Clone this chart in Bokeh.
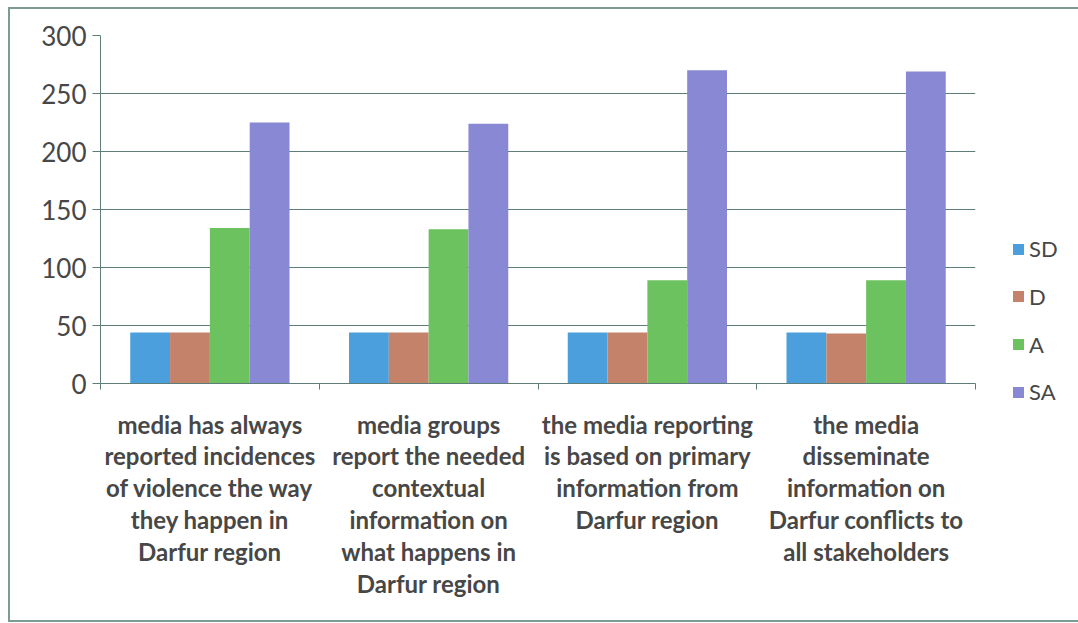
from bokeh.plotting import figure
from bokeh.layouts import row
from bokeh.models import Range1d, FixedTicker, Div
from bokeh.embed import file_html
from bokeh.resources import INLINE

categories = [
    "media has always\nreported incidences\nof violence the way\nthey happen in\nDarfur region",
    "media groups\nreport the needed\ncontextual\ninformation on\nwhat happens in\nDarfur region",
    "the media reporting\nis based on primary\ninformation from\nDarfur region",
    "the media\ndisseminate\ninformation on\nDarfur conflicts to\nall stakeholders",
]
series_names = ["SD", "D", "A", "SA"]
sd = [44, 44, 44, 44]
d = [44, 44, 44, 43]
a = [134, 133, 89, 89]
sa = [225, 224, 270, 269]
series_values = [sd, d, a, sa]
colors = ["#4a9fdc", "#c4826a", "#6cc25e", "#8888d4"]
y_ticks = [0, 50, 100, 150, 200, 250, 300]

TXT = "#474747"
GRID = "#5f7d78"
BORDER = "#7d9b95"

p = figure(width=980, height=611, output_backend="svg", toolbar_location=None,
           x_range=Range1d(0, len(categories)), y_range=Range1d(0, 300),
           min_border_left=90, min_border_right=15, min_border_top=26, min_border_bottom=237)
p.outline_line_color = None
p.background_fill_color = "white"
p.border_fill_color = "white"

bw = 0.182
offsets = [-1.5 * bw, -0.5 * bw, 0.5 * bw, 1.5 * bw]
centers = [i + 0.5 for i in range(len(categories))]
for vals, off, col in zip(series_values, offsets, colors):
    p.vbar(x=[c + off for c in centers], top=vals, bottom=0, width=bw,
           fill_color=col, line_color=None)

# x axis: labels at category centres, ticks at category boundaries
p.xaxis.ticker = FixedTicker(ticks=centers, minor_ticks=list(range(len(categories) + 1)))
p.xaxis.major_label_overrides = {c: lab for c, lab in zip(centers, categories)}
p.xaxis.major_tick_line_color = None
p.xaxis.major_tick_out = 0
p.xaxis.major_tick_in = 0
p.xaxis.minor_tick_line_color = GRID
p.xaxis.minor_tick_in = 0
p.xaxis.minor_tick_out = 6
p.xaxis.axis_line_color = GRID
p.xaxis.major_label_text_font = "Lato"
p.xaxis.major_label_text_font_size = "24px"
p.xaxis.major_label_text_font_style = "bold"
p.xaxis.major_label_text_color = TXT
p.xaxis.major_label_text_line_height = 1.1
p.xaxis.major_label_standoff = 20
p.xaxis.major_label_text_align = "center"

p.yaxis.ticker = FixedTicker(ticks=y_ticks)
p.yaxis.minor_tick_line_color = None
p.yaxis.major_tick_line_color = GRID
p.yaxis.major_tick_in = 0
p.yaxis.major_tick_out = 8
p.yaxis.axis_line_color = GRID
p.yaxis.major_label_text_font = "Lato"
p.yaxis.major_label_text_font_size = "26px"
p.yaxis.major_label_text_color = TXT
p.yaxis.major_label_standoff = 6

p.xgrid.grid_line_color = None
p.ygrid.grid_line_color = GRID
p.ygrid.grid_line_width = 1

# legend (SD, D, A, SA from top to bottom)
first_center = 240
pitch = 47.7
item_html = []
for i, (name, col) in enumerate(zip(series_names, colors)):
    top = first_center + i * pitch - 13
    item_html.append(
        f'<div style="position:absolute;left:23px;top:{top:.1f}px;height:26px;'
        f'display:flex;align-items:center;font-family:Lato;font-size:22px;color:{TXT};">'
        f'<span style="display:inline-block;width:11px;height:11px;background:{col};'
        f'margin-right:5px;"></span><span>{name}</span></div>'
    )
legend_div = Div(width=88, height=611,
                 text='<div style="position:relative;width:88px;height:611px;">'
                      + "".join(item_html) + "</div>",
                 styles={"margin": "0", "padding": "0"})

layout = row(p, legend_div, styles={"margin-left": "8px", "margin-top": "7px",
                                    "border-left": "2px solid " + BORDER,
                                    "border-top": "2px solid " + BORDER,
                                    "border-bottom": "2px solid " + BORDER})

open("out.html", "w").write(file_html(layout, INLINE))
